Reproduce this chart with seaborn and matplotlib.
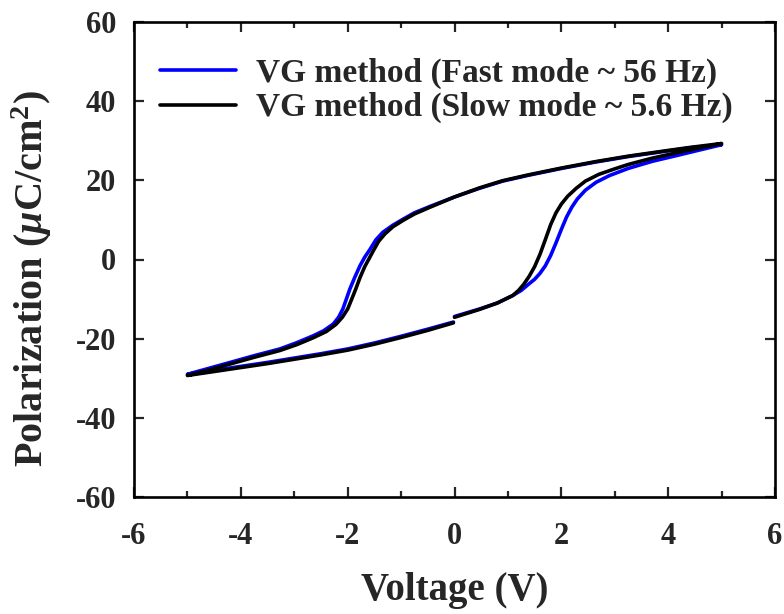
import matplotlib
matplotlib.use('Agg')
import matplotlib.pyplot as plt
import seaborn as sns
import pandas as pd
from matplotlib.ticker import MultipleLocator

# 데이터 (0 V -> +5 V -> -5 V -> 0 V 순서로 한 바퀴)
fast_v = [0.0, 0.47, 0.8, 1.09, 1.25, 1.39, 1.5, 1.6, 1.7, 1.8, 1.9, 2.0, 2.1, 2.2, 2.3, 2.45, 2.65, 2.9,
          3.25, 3.7, 4.17, 4.6, 5.0,
          4.4, 3.87, 3.25, 2.63, 2.0, 1.39, 0.9, 0.47, 0.0, -0.46, -0.75, -0.96, -1.15, -1.34, -1.47, -1.58,
          -1.68, -1.77, -1.87, -1.96, -2.03, -2.09, -2.17, -2.27, -2.45, -2.65, -2.95, -3.27, -3.75, -4.2,
          -4.6, -5.0,
          -4.5, -4.0, -3.5, -3.0, -2.5, -2.0, -1.5, -1.0, -0.5, -0.02]
fast_p = [-14.4, -12.5, -11.0, -9.1, -7.8, -6.2, -5.0, -3.5, -1.6, 1.0, 4.2, 7.6, 10.8, 13.3, 15.3, 17.5, 19.5, 21.2,
          23.0, 24.8, 26.3, 27.7, 29.0,
          28.2, 27.2, 26.0, 24.6, 23.0, 21.3, 19.8, 18.0, 15.8, 13.4, 11.8, 10.2, 8.7, 6.9, 5.0, 2.6,
          0.6, -1.6, -4.6, -7.5, -10.2, -12.5, -14.6, -16.3, -18.0, -19.3, -21.0, -22.6, -24.3, -26.0,
          -27.5, -29.0,
          -28.0, -27.0, -26.0, -24.9, -23.8, -22.6, -21.1, -19.4, -17.6, -15.8]

slow_v = [0.0, 0.47, 0.8, 1.09, 1.2, 1.3, 1.4, 1.5, 1.6, 1.7, 1.8, 1.9, 2.0, 2.12, 2.28, 2.45, 2.7, 3.0,
          3.25, 3.7, 4.17, 4.6, 5.0,
          4.4, 3.87, 3.25, 2.63, 2.0, 1.39, 0.9, 0.47, 0.0, -0.46, -0.75, -0.96, -1.15, -1.3, -1.42, -1.52,
          -1.6, -1.68, -1.77, -1.85, -1.93, -2.0, -2.1, -2.22, -2.4, -2.65, -2.95, -3.27, -3.75, -4.2,
          -4.6, -5.0,
          -4.5, -4.0, -3.5, -3.0, -2.5, -2.0, -1.5, -1.0, -0.5, -0.02]
slow_p = [-14.6, -12.6, -11.0, -9.1, -7.8, -6.2, -4.2, -1.8, 1.3, 5.0, 8.8, 11.8, 14.0, 16.0, 18.0, 19.8, 21.5, 22.9,
          24.0, 25.6, 27.0, 28.2, 29.3,
          28.3, 27.3, 26.1, 24.7, 23.1, 21.4, 19.9, 18.1, 15.8, 13.2, 11.5, 9.9, 8.3, 6.5, 4.6, 2.2,
          0.2, -1.8, -4.6, -7.5, -10.2, -12.5, -14.6, -16.4, -18.2, -19.8, -21.5, -23.0, -24.7, -26.4,
          -27.9, -29.3,
          -28.3, -27.3, -26.3, -25.2, -24.1, -22.9, -21.4, -19.7, -17.9, -16.0]

labels = ['VG method (Fast mode ~ 56 Hz)', 'VG method (Slow mode ~ 5.6 Hz)']

sns.set_theme(style='ticks')
plt.rcParams['font.family'] = ['Liberation Serif', 'DejaVu Serif']
plt.rcParams['font.weight'] = 'bold'
plt.rcParams['axes.unicode_minus'] = False
plt.rcParams['mathtext.fontset'] = 'custom'
plt.rcParams['mathtext.rm'] = 'Liberation Serif:bold'
plt.rcParams['mathtext.it'] = 'Liberation Serif:italic:bold'
plt.rcParams['mathtext.bf'] = 'Liberation Serif:bold'

df_fast = pd.DataFrame({'V': fast_v, 'P': fast_p})
df_slow = pd.DataFrame({'V': slow_v, 'P': slow_p})

fig = plt.figure(figsize=(7.84, 6.14), dpi=100)
ax = fig.add_axes([134 / 784, 1 - 497 / 614, 641 / 784, 475 / 614])

sns.lineplot(data=df_fast, x='V', y='P', sort=False, estimator=None, color='#0000ff', lw=2.6, label=labels[0], ax=ax)
sns.lineplot(data=df_slow, x='V', y='P', sort=False, estimator=None, color='black', lw=2.6, label=labels[1], ax=ax)

ax.set_xlim(-6, 6)
ax.set_ylim(-60, 60)
ax.xaxis.set_major_locator(MultipleLocator(2))
ax.xaxis.set_minor_locator(MultipleLocator(1))
ax.yaxis.set_major_locator(MultipleLocator(20))
ax.tick_params(which='both', direction='in', top=True, right=True, width=1.6, labelsize=22)
ax.tick_params(axis='x', pad=18)
ax.tick_params(axis='y', pad=13)
ax.tick_params(which='major', length=7.5)
ax.tick_params(which='minor', length=4.5)
for s in ax.spines.values():
    s.set_linewidth(1.9)
    s.set_color('black')

ax.set_xlabel('Voltage (V)', fontsize=28, fontweight='bold', labelpad=15)
ax.set_ylabel(r'Polarization ($\mu$C/cm$^{2}$)', fontsize=29, fontweight='bold')
ax.yaxis.set_label_coords(-0.125, 0.46)

ax.legend(loc='upper left', bbox_to_anchor=(0.04, 0.925), frameon=False, fontsize=24,
          handlelength=2.3, handletextpad=0.6, labelspacing=0.1, borderpad=0, borderaxespad=0)

plt.savefig('out.png', dpi=100)
